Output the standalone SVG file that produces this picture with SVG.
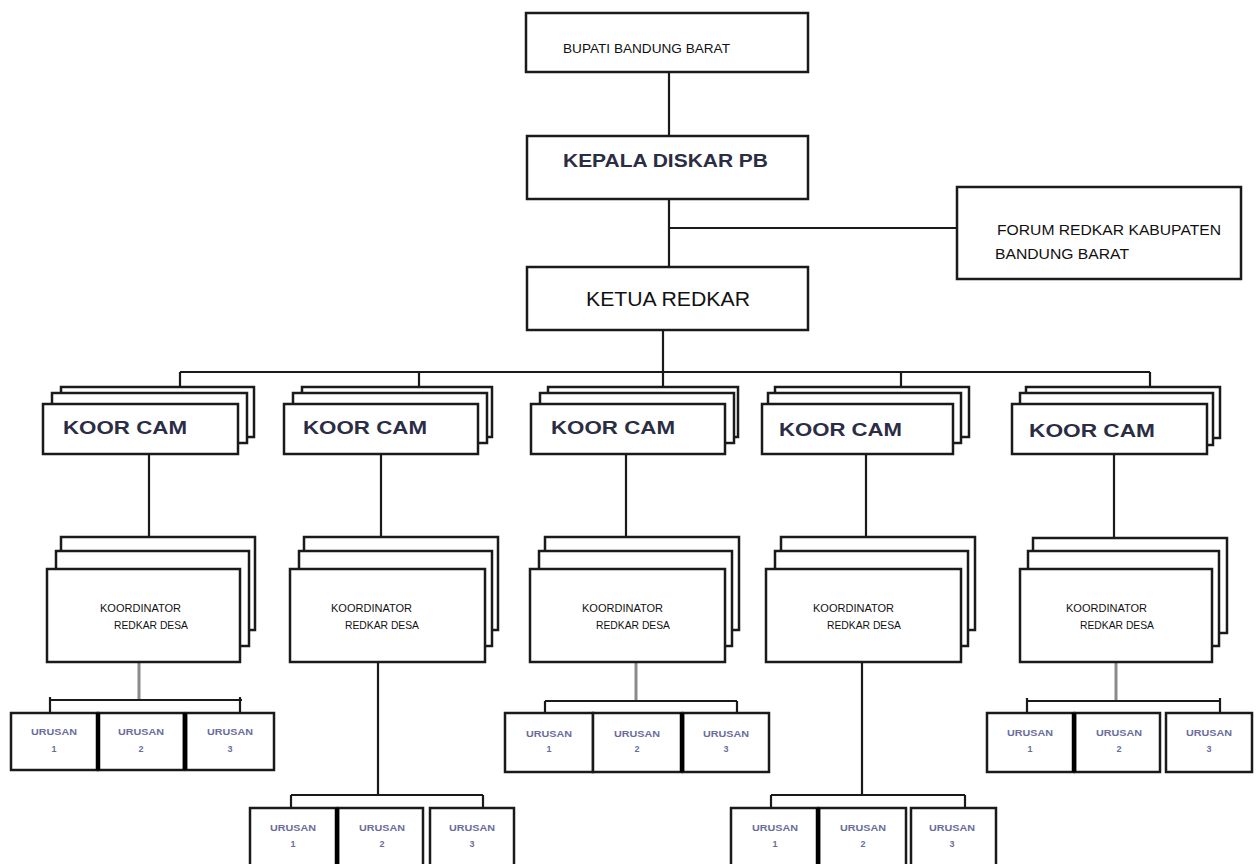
<svg xmlns="http://www.w3.org/2000/svg" width="1256" height="864" viewBox="0 0 1256 864">
<style>
.bx{fill:#fff;stroke:#1a1a1a;stroke-width:2.5}
.ln{stroke:#1a1a1a;stroke-width:2.2;fill:none}
.gl{stroke:#8a8a8a;stroke-width:3;fill:none}
.dv{stroke:#000;stroke-width:4.5;fill:none}
.t{font-family:"Liberation Sans",Arial,sans-serif;fill:#111}
.b{font-family:"Liberation Sans",Arial,sans-serif;font-weight:bold;fill:#2b2d45}
.u{font-family:"Liberation Sans",Arial,sans-serif;font-weight:bold;fill:#6a6d9c;font-size:9px;text-anchor:middle}
</style>
<rect width="1256" height="864" fill="#fff"/>
<g id="connectors">
<path class="ln" d="M669 72V136M669 199V267M669 228H957M663 330V372M180 372H1150M180 372V387M419 372V387M663 372V387M901 372V387M1150 372V387"/>
<path class="ln" d="M149 454V537M381 454V537M626 454V537M866 454V537M1114 454V538"/>
<path class="gl" d="M139 662V700M636 662V701M1116 662V701"/>
<path class="ln" d="M378 662V795M862 662V795"/>
<path class="ln" d="M50 700H242M50 697V713M240 697V713M545 701H737M545 701V713M737 701V713M1027 701H1220M1027 698V713M1220 698V713M291 795H483M291 795V808M483 795V808M771 795H965M771 795V808M965 795V808"/>
</g>
<g id="bupati"><rect class="bx" x="526" y="13" width="282" height="59"/><text class="t" x="563" y="53" font-size="13" textLength="167" lengthAdjust="spacingAndGlyphs">BUPATI BANDUNG BARAT</text></g>
<g id="kepala"><rect class="bx" x="527" y="136" width="281" height="63"/><text class="b" x="563" y="167" font-size="19" textLength="205" lengthAdjust="spacingAndGlyphs">KEPALA DISKAR PB</text></g>
<g id="forum"><rect class="bx" x="957" y="187" width="284" height="92"/><text class="t" x="997" y="235" font-size="14" textLength="224" lengthAdjust="spacingAndGlyphs">FORUM REDKAR KABUPATEN</text><text class="t" x="995" y="259" font-size="14" textLength="134" lengthAdjust="spacingAndGlyphs">BANDUNG BARAT</text></g>
<g id="ketua"><rect class="bx" x="527" y="267" width="281" height="63"/><text class="t" x="586" y="306" font-size="21" textLength="164" lengthAdjust="spacingAndGlyphs">KETUA REDKAR</text></g>
<g id="koorcam1"><rect class="bx" x="61" y="387" width="193" height="50"/><rect class="bx" x="52" y="393" width="195" height="50"/><rect class="bx" x="43" y="404" width="195" height="50"/><text class="b" x="63" y="434" font-size="19" textLength="124" lengthAdjust="spacingAndGlyphs">KOOR CAM</text></g>
<g id="koorcam2"><rect class="bx" x="302" y="387" width="190" height="50"/><rect class="bx" x="293" y="393" width="194" height="50"/><rect class="bx" x="284" y="404" width="194" height="50"/><text class="b" x="303" y="434" font-size="19" textLength="124" lengthAdjust="spacingAndGlyphs">KOOR CAM</text></g>
<g id="koorcam3"><rect class="bx" x="548" y="387" width="190" height="50"/><rect class="bx" x="540" y="393" width="194" height="50"/><rect class="bx" x="531" y="404" width="194" height="50"/><text class="b" x="551" y="434" font-size="19" textLength="124" lengthAdjust="spacingAndGlyphs">KOOR CAM</text></g>
<g id="koorcam4"><rect class="bx" x="775" y="387" width="194" height="50"/><rect class="bx" x="768" y="393" width="193" height="50"/><rect class="bx" x="762" y="404" width="191" height="50"/><text class="b" x="779" y="436" font-size="19" textLength="123" lengthAdjust="spacingAndGlyphs">KOOR CAM</text></g>
<g id="koorcam5"><rect class="bx" x="1026" y="387" width="194" height="51"/><rect class="bx" x="1020" y="393" width="193" height="52"/><rect class="bx" x="1012" y="404" width="195" height="50"/><text class="b" x="1029" y="437" font-size="19" textLength="126" lengthAdjust="spacingAndGlyphs">KOOR CAM</text></g>
<g id="koord1"><rect class="bx" x="61" y="537" width="194" height="93"/><rect class="bx" x="56" y="551" width="193" height="95"/><rect class="bx" x="47" y="569" width="193" height="93"/><text class="t" x="100" y="612" font-size="11" textLength="81" lengthAdjust="spacingAndGlyphs">KOORDINATOR</text><text class="t" x="114" y="629" font-size="11" textLength="74" lengthAdjust="spacingAndGlyphs">REDKAR DESA</text></g>
<g id="koord2"><rect class="bx" x="304" y="537" width="194" height="93"/><rect class="bx" x="299" y="551" width="193" height="95"/><rect class="bx" x="290" y="569" width="195" height="93"/><text class="t" x="331" y="612" font-size="11" textLength="81" lengthAdjust="spacingAndGlyphs">KOORDINATOR</text><text class="t" x="345" y="629" font-size="11" textLength="74" lengthAdjust="spacingAndGlyphs">REDKAR DESA</text></g>
<g id="koord3"><rect class="bx" x="545" y="537" width="194" height="93"/><rect class="bx" x="539" y="551" width="193" height="95"/><rect class="bx" x="530" y="569" width="195" height="93"/><text class="t" x="582" y="612" font-size="11" textLength="81" lengthAdjust="spacingAndGlyphs">KOORDINATOR</text><text class="t" x="596" y="629" font-size="11" textLength="74" lengthAdjust="spacingAndGlyphs">REDKAR DESA</text></g>
<g id="koord4"><rect class="bx" x="781" y="537" width="194" height="93"/><rect class="bx" x="775" y="551" width="193" height="95"/><rect class="bx" x="766" y="569" width="195" height="93"/><text class="t" x="813" y="612" font-size="11" textLength="81" lengthAdjust="spacingAndGlyphs">KOORDINATOR</text><text class="t" x="827" y="629" font-size="11" textLength="74" lengthAdjust="spacingAndGlyphs">REDKAR DESA</text></g>
<g id="koord5"><rect class="bx" x="1033" y="538" width="194" height="95"/><rect class="bx" x="1028" y="551" width="191" height="95"/><rect class="bx" x="1020" y="569" width="192" height="93"/><text class="t" x="1066" y="612" font-size="11" textLength="81" lengthAdjust="spacingAndGlyphs">KOORDINATOR</text><text class="t" x="1080" y="629" font-size="11" textLength="74" lengthAdjust="spacingAndGlyphs">REDKAR DESA</text></g>
<g id="urusan1"><rect class="bx" x="11" y="713" width="87" height="57"/><rect class="bx" x="98" y="713" width="86" height="57"/><rect class="bx" x="186" y="713" width="88" height="57"/><path class="dv" d="M98 713V770M185 713V770"/><text class="u" x="54" y="735" textLength="46" lengthAdjust="spacingAndGlyphs">URUSAN</text><text class="u" x="54" y="752">1</text><text class="u" x="141" y="735" textLength="46" lengthAdjust="spacingAndGlyphs">URUSAN</text><text class="u" x="141" y="752">2</text><text class="u" x="230" y="735" textLength="46" lengthAdjust="spacingAndGlyphs">URUSAN</text><text class="u" x="230" y="752">3</text></g>
<g id="urusan3"><rect class="bx" x="505" y="713" width="88" height="59"/><rect class="bx" x="593" y="713" width="89" height="59"/><rect class="bx" x="683" y="713" width="86" height="59"/><path class="dv" d="M682 713V772"/><text class="u" x="549" y="737" textLength="46" lengthAdjust="spacingAndGlyphs">URUSAN</text><text class="u" x="549" y="752">1</text><text class="u" x="637" y="737" textLength="46" lengthAdjust="spacingAndGlyphs">URUSAN</text><text class="u" x="637" y="752">2</text><text class="u" x="726" y="737" textLength="46" lengthAdjust="spacingAndGlyphs">URUSAN</text><text class="u" x="726" y="752">3</text></g>
<g id="urusan5"><rect class="bx" x="987" y="713" width="87" height="59"/><rect class="bx" x="1075" y="713" width="85" height="59"/><rect class="bx" x="1166" y="713" width="86" height="59"/><path class="dv" d="M1074 713V772"/><text class="u" x="1030" y="736" textLength="46" lengthAdjust="spacingAndGlyphs">URUSAN</text><text class="u" x="1030" y="752">1</text><text class="u" x="1119" y="736" textLength="46" lengthAdjust="spacingAndGlyphs">URUSAN</text><text class="u" x="1119" y="752">2</text><text class="u" x="1209" y="736" textLength="46" lengthAdjust="spacingAndGlyphs">URUSAN</text><text class="u" x="1209" y="752">3</text></g>
<g id="urusan2"><rect class="bx" x="250" y="808" width="87" height="64"/><rect class="bx" x="338" y="808" width="85" height="64"/><rect class="bx" x="430" y="808" width="84" height="64"/><path class="dv" d="M337 808V872"/><text class="u" x="293" y="831" textLength="46" lengthAdjust="spacingAndGlyphs">URUSAN</text><text class="u" x="293" y="847">1</text><text class="u" x="382" y="831" textLength="46" lengthAdjust="spacingAndGlyphs">URUSAN</text><text class="u" x="382" y="847">2</text><text class="u" x="472" y="831" textLength="46" lengthAdjust="spacingAndGlyphs">URUSAN</text><text class="u" x="472" y="847">3</text></g>
<g id="urusan4"><rect class="bx" x="731" y="808" width="87" height="64"/><rect class="bx" x="819" y="808" width="87" height="64"/><rect class="bx" x="911" y="808" width="85" height="64"/><path class="dv" d="M818 808V872"/><text class="u" x="775" y="831" textLength="46" lengthAdjust="spacingAndGlyphs">URUSAN</text><text class="u" x="775" y="847">1</text><text class="u" x="863" y="831" textLength="46" lengthAdjust="spacingAndGlyphs">URUSAN</text><text class="u" x="863" y="847">2</text><text class="u" x="952" y="831" textLength="46" lengthAdjust="spacingAndGlyphs">URUSAN</text><text class="u" x="952" y="847">3</text></g>
</svg>
